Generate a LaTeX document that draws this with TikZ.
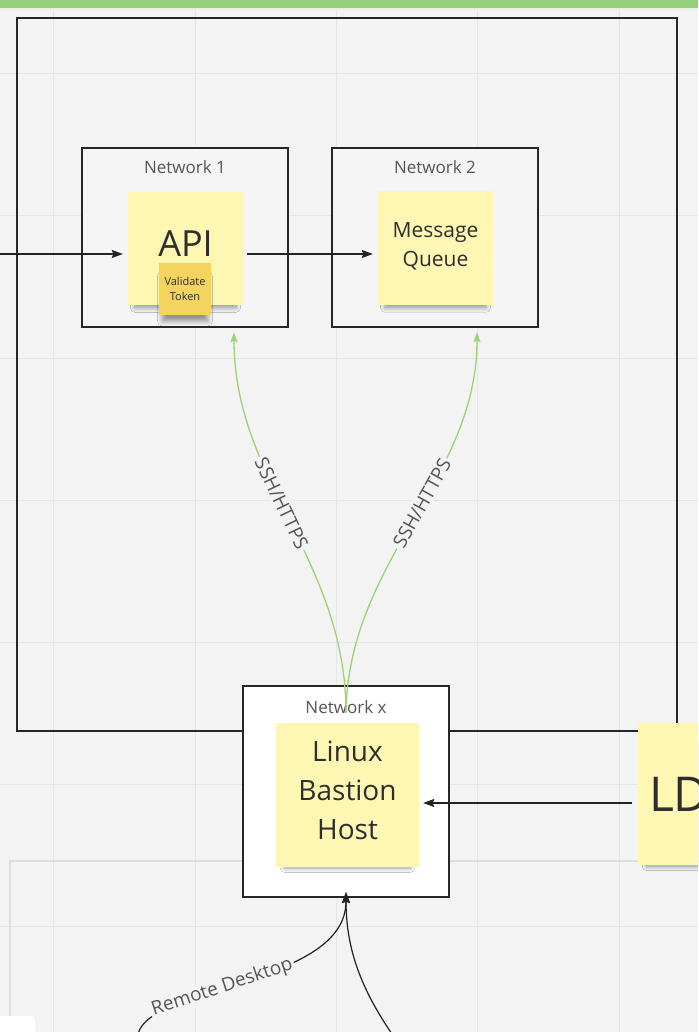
\documentclass[tikz,border=0pt]{standalone}
\usepackage{fontspec}
\setmainfont{Open Sans}
\usetikzlibrary{arrows.meta,shadows.blur}
\definecolor{boardbg}{HTML}{F3F3F3}
\definecolor{gridcol}{HTML}{E6E6E6}
\definecolor{topband}{HTML}{96CF7C}
\definecolor{framecol}{HTML}{262626}
\definecolor{lowframe}{HTML}{DEDEDE}
\definecolor{netfill}{HTML}{F5F5F5}
\definecolor{stickyA}{HTML}{FEF7B4}
\definecolor{stickyB}{HTML}{F4D45E}
\definecolor{stickytext}{HTML}{2E2E2E}
\definecolor{labelgray}{HTML}{555555}
\definecolor{linkcol}{HTML}{222222}
\definecolor{sshgreen}{HTML}{9FD177}
\tikzset{
  gridline/.style={draw=gridcol, line width=1pt},
  netbox/.style={draw=framecol, line width=2.2pt, fill=netfill, inner sep=0pt},
  netlabel/.style={text=labelgray, font=\fontsize{17}{20}\selectfont, inner sep=1pt},
  sticky/.style={fill=stickyA, inner sep=0pt, align=center, text=stickytext,
    blur shadow={shadow xshift=0pt, shadow yshift=-11pt, shadow scale=0.88,
      shadow opacity=40, shadow blur radius=5pt, shadow blur steps=10}},
  link/.style={draw=linkcol, line width=1.2pt, -{Stealth[length=11pt,width=8pt,inset=1.5pt]}},
  sshlink/.style={draw=sshgreen, line width=1.3pt, -{Stealth[length=10pt,width=7pt,inset=1.5pt]}},
  linklabel/.style={fill=boardbg, text=labelgray, inner sep=2pt, sloped}
}
\begin{document}
\begin{tikzpicture}[x=1pt,y=-1pt]
  \useasboundingbox (0,0) rectangle (698,1032);
  \clip (0,0) rectangle (698,1032);
  \fill[boardbg] (0,0) rectangle (698,1032);
  \foreach \gx in {53,195,336,477,619}
    \draw[gridline] (\gx,0) -- (\gx,1032);
  \foreach \gy in {74,216,358,500,642,784,926}
    \draw[gridline] (0,\gy) -- (698,\gy);
  \fill[topband] (0,0) rectangle (698,8);
  \fill[topband!25] (0,8) rectangle (698,10);
  \draw[lowframe, line width=1.5pt] (10,1040) |- (710,861);
  \fill[white, rounded corners=3pt] (-5,1016) rectangle (35,1040);
  \draw[framecol, line width=2.2pt] (17,18) rectangle (677,731);

  \node[netbox, minimum width=206pt, minimum height=179pt] (net1) at (185,237.5) {};
  \node[netbox, minimum width=206pt, minimum height=179pt] (net2) at (435,237.5) {};
  \node[netbox, fill=white, minimum width=206pt, minimum height=211pt] (netx) at (346,791.5) {};
  \node[netlabel] (net1 title) at (185,167) {Network 1};
  \node[netlabel] (net2 title) at (435,167) {Network 2};
  \node[netlabel] (netx title) at (346,707) {Network x};

  \node[sticky, minimum width=115pt, minimum height=113pt,
    font=\fontsize{36}{40}\selectfont] (api) at (185.5,248.5) {API\\[-30pt]};
  \node[sticky, fill=stickyB, minimum size=52pt,
    font=\fontsize{11}{15}\selectfont] (token) at (185,289) {Validate\\Token};
  \node[sticky, minimum width=115pt, minimum height=114pt,
    font=\fontsize{21}{29}\selectfont] (mq) at (435.5,248) {Message\\Queue\\[-22pt]};
  \node[sticky, minimum width=143pt, minimum height=144pt,
    font=\fontsize{28}{39}\selectfont] (bastion) at (347.5,795) {Linux\\Bastion\\Host\\[-30pt]};
  \node[sticky, minimum width=144pt, minimum height=142pt, align=left,
    inner xsep=11pt, text width=122pt,
    font=\fontsize{48}{52}\selectfont] (ld) at (710,794) {LD};

  \coordinate (entry) at (0,254);
  \draw[link, shorten >=5pt] (entry) -- (entry -| api.west);
  \draw[link, shorten <=4pt, shorten >=5pt] (api.east |- entry) -- (entry -| mq.west);

  \coordinate (hub) at (346,713);
  \draw[sshlink] (hub) .. controls (346,560) and (234,480) .. ([xshift=49pt,yshift=-4pt]net1.south)
    node[linklabel, pos=0.55, font=\fontsize{19}{22}\selectfont] {SSH/HTTPS};
  \draw[sshlink] (hub) .. controls (348,560) and (477,480) .. ([xshift=42pt,yshift=-4pt]net2.south)
    node[linklabel, pos=0.55, font=\fontsize{19}{22}\selectfont] {SSH/HTTPS};

  \draw[link, shorten <=6pt, shorten >=4pt] ([yshift=-9pt]ld.west) -- ([yshift=-9pt]ld.west -| bastion.east);

  \coordinate (rd start) at (138,1034);
  \coordinate (rd tip) at ([yshift=6pt]netx.south);
  \coordinate (lower start) at (392,1034);
  \draw[link] (rd start) .. controls (150,985) and (346,985) .. (rd tip)
    node[linklabel, pos=0.42, font=\fontsize{19}{22}\selectfont] {Remote Desktop};
  \draw[link] (lower start) .. controls (362,990) and (346,950) .. (rd tip);
\end{tikzpicture}
\end{document}
